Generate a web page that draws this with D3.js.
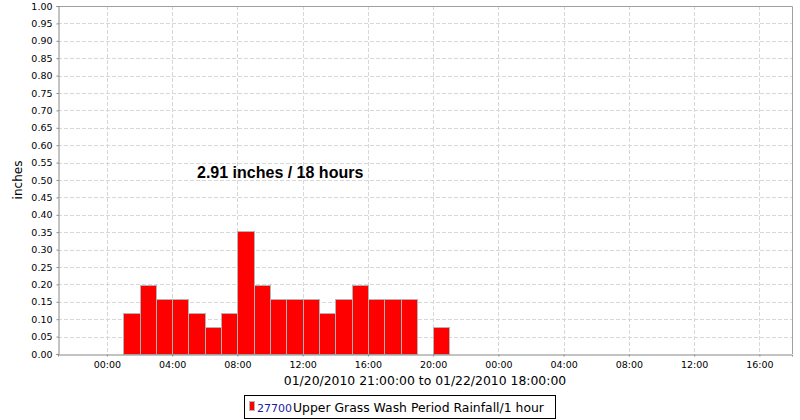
<!DOCTYPE html>
<html><head><meta charset="utf-8">
<script src="https://cdn.jsdelivr.net/npm/d3@7"></script>
<style>body{margin:0;background:#fff}svg{display:block}</style>
</head><body>
<svg id="c" width="800" height="420"></svg>
<script>
// Data: hourly rainfall (inches), bar start hour (UTC) on 2010-01-21
const hourStarts = ["2010-01-21T01:00","2010-01-21T02:00","2010-01-21T03:00","2010-01-21T04:00","2010-01-21T05:00","2010-01-21T06:00","2010-01-21T07:00","2010-01-21T08:00","2010-01-21T09:00","2010-01-21T10:00","2010-01-21T11:00","2010-01-21T12:00","2010-01-21T13:00","2010-01-21T14:00","2010-01-21T15:00","2010-01-21T16:00","2010-01-21T17:00","2010-01-21T18:00","2010-01-21T20:00"];
const rainfall = [0.118,0.197,0.157,0.157,0.118,0.079,0.118,0.354,0.197,0.157,0.157,0.157,0.118,0.157,0.197,0.157,0.157,0.157,0.079];
const yTicks = [0,0.05,0.10,0.15,0.20,0.25,0.30,0.35,0.40,0.45,0.50,0.55,0.60,0.65,0.70,0.75,0.80,0.85,0.90,0.95,1.00];
const xTickTimes = ["2010-01-21T00:00","2010-01-21T04:00","2010-01-21T08:00","2010-01-21T12:00","2010-01-21T16:00","2010-01-21T20:00","2010-01-22T00:00","2010-01-22T04:00","2010-01-22T08:00","2010-01-22T12:00","2010-01-22T16:00"];
const domainStart = "2010-01-20T21:00", domainEnd = "2010-01-22T18:00";
const annotation = "2.91 inches / 18 hours";
const xTitle = "01/20/2010 21:00:00 to 01/22/2010 18:00:00";
const yTitle = "inches";
const legendId = "27700", legendName = "Upper Grass Wash Period Rainfall/1 hour";

const parse = s => new Date(s + ":00Z");
const L = 58, R = 792, T = 6, B = 354;
const svg = d3.select("#c");
const x = d3.scaleUtc().domain([parse(domainStart), parse(domainEnd)]).range([L, R]);
const y = d3.scaleLinear().domain([0, 1]).range([B, T]);
const font = "'DejaVu Sans', sans-serif";

svg.append("rect").attr("x", L).attr("y", T).attr("width", R - L).attr("height", B - T).attr("fill", "#fff");

// grid
const g = svg.append("g");
g.selectAll(".gy").data(yTicks.slice(1)).join("line")
  .attr("x1", L).attr("x2", R).attr("y1", d => Math.round(y(d)) + 0.5).attr("y2", d => Math.round(y(d)) + 0.5)
  .attr("stroke", "#d8d8d8").attr("stroke-dasharray", "4,2");
g.selectAll(".gx").data(xTickTimes.map(parse)).join("line")
  .attr("x1", d => Math.round(x(d)) + 0.5).attr("x2", d => Math.round(x(d)) + 0.5).attr("y1", T).attr("y2", B)
  .attr("stroke", "#d8d8d8").attr("stroke-dasharray", "4,2");

// bars
const hour = 3600 * 1000;
svg.append("g").selectAll("rect").data(rainfall.map((v, i) => ({t: parse(hourStarts[i]), v})))
  .join("rect")
  .attr("x", d => Math.round(x(d.t)) + 0.5)
  .attr("width", d => Math.round(x(new Date(+d.t + hour))) - Math.round(x(d.t)))
  .attr("y", d => Math.round(y(d.v)) + 0.5)
  .attr("height", d => B - Math.round(y(d.v)))
  .attr("fill", "#ff0000").attr("stroke", "#b4b4b4").attr("stroke-width", 1);

// border
svg.append("path").attr("d", `M${L},${T + 0.5}H${R + 0.5}V${B}`).attr("fill", "none").attr("stroke", "#a0a0a0");

// axes
const yAxis = d3.axisLeft(y).tickValues(yTicks).tickFormat(d3.format(".2f")).tickSize(2).tickPadding(4);
const ya = svg.append("g").attr("transform", `translate(${L + 0.5},0)`).call(yAxis);
const xAxis = d3.axisBottom(x).tickValues(xTickTimes.map(parse)).tickFormat(d3.utcFormat("%H:%M")).tickSize(2).tickPadding(5);
const xa = svg.append("g").attr("transform", `translate(0,${B + 0.5})`).call(xAxis);
[ya, xa].forEach(a => {
  a.select(".domain").attr("stroke", "#888");
  a.selectAll(".tick line").attr("stroke", "#888");
  a.selectAll("text").attr("font-family", font).attr("font-size", "9.5px").attr("fill", "#000");
});

// titles
svg.append("text").attr("x", (L + R) / 2).attr("y", 385).attr("text-anchor", "middle")
  .attr("font-family", font).attr("font-size", "12.4px").text(xTitle);
svg.append("text").attr("transform", `translate(22,${(T + B) / 2}) rotate(-90)`).attr("text-anchor", "middle")
  .attr("font-family", font).attr("font-size", "12px").text(yTitle);

// annotation
svg.append("text").attr("x", 197).attr("y", 177.5).attr("font-family", "'Liberation Sans', Arial, sans-serif")
  .attr("font-size", "16px").attr("font-weight", "bold").text(annotation);

// legend
const lg = svg.append("g");
lg.append("rect").attr("x", 244.5).attr("y", 395.5).attr("width", 311).attr("height", 23).attr("fill", "#fff").attr("stroke", "#000");
lg.append("rect").attr("x", 249.5).attr("y", 401.5).attr("width", 5).attr("height", 9).attr("fill", "#ff0000").attr("stroke", "#b4b4b4");
const lt = lg.append("text").attr("x", 257).attr("y", 411.5).attr("font-family", font);
lt.append("tspan").attr("font-size", "11px").attr("fill", "#1a1aa6").text(legendId);
lt.append("tspan").attr("font-size", "12.4px").attr("fill", "#000").attr("dx", 1).text(legendName);
</script>
</body></html>
